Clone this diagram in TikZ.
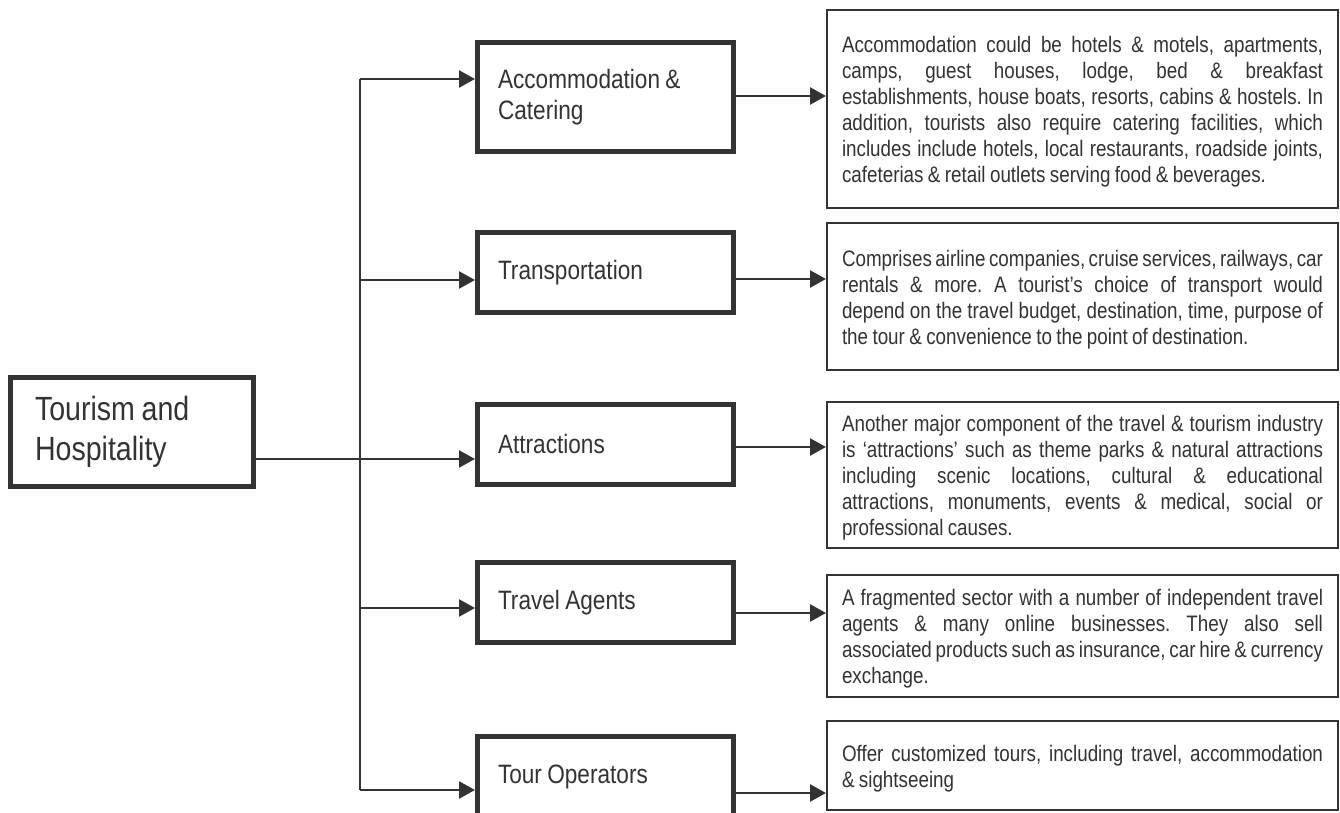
\documentclass[tikz,border=0pt]{standalone}
\usepackage{fontspec}
\setmainfont[FakeStretch=0.85,WordSpace=0.85]{Liberation Sans}
\newfontfamily\descfont[FakeStretch=0.84,WordSpace=0.84]{Liberation Sans}
\usetikzlibrary{arrows.meta}
\definecolor{ink}{HTML}{333333}
\frenchspacing
\begin{document}
\begin{tikzpicture}[x=0.5pt,y=-0.5pt,
  rootbox/.style={draw=ink, line width=2.5pt, minimum width=121.5pt, minimum height=54.5pt,
    text width=97pt, inner xsep=12.25pt, align=flush left, text=ink,
    font=\fontsize{16.8}{20}\selectfont},
  midbox/.style={draw=ink, line width=2.5pt, minimum width=128pt, minimum height=40pt,
    text width=107.5pt, inner xsep=10.25pt, align=flush left, text=ink,
    font=\fontsize{13.3}{15.5}\selectfont},
  descbox/.style={draw=ink, line width=1.2pt, minimum width=255.3pt,
    text width=240.5pt, inner xsep=7.4pt, align=justify, text=ink,
    font=\descfont\fontsize{11.2}{13}\selectfont\frenchspacing,
    execute at begin node={\rule{0pt}{11.2pt}}},
  conn/.style={draw=ink, line width=1.3pt},
  arr/.style={conn, -{Triangle[length=8pt,width=8.5pt]}}
]
\clip (0,0) rectangle (1340,813);
\fill[white] (0,0) rectangle (1340,813);

% root
\node[rootbox] (root) at (132,432) {Tourism and Hospitality};

% middle boxes
\node[midbox, minimum height=54.5pt] (acc) at (605.5,97) {Accommodation \&\\Catering};
\node[midbox] (trans) at (605.5,272.5) {Transportation};
\node[midbox] (attr) at (605.5,444) {Attractions};
\node[midbox] (ta) at (605.5,602.5) {Travel Agents};
\node[midbox] (tour) at (605.5,776.5) {Tour Operators};

% description boxes
\node[descbox, minimum height=98.8pt] (d1) at (1082.5,109) {Accommodation could be hotels \& motels, apartments,\linebreak camps, guest houses, lodge, bed \& breakfast\linebreak establishments, house boats, resorts, cabins \& hostels. In\linebreak addition, tourists also require catering facilities, which\linebreak includes include hotels, local restaurants, roadside joints,\linebreak cafeterias \& retail outlets serving food \& beverages.};
\node[descbox, minimum height=73.3pt] (d2) at (1082.5,296.5) {Comprises airline companies, cruise services, railways, car\linebreak rentals \& more. A tourist’s choice of transport would\linebreak depend on the travel budget, destination, time, purpose of\linebreak the tour \& convenience to the point of destination.};
\node[descbox, minimum height=72.8pt] (d3) at (1082.5,475) {Another major component of the travel \& tourism industry\linebreak is ‘attractions’ such as theme parks \& natural attractions\linebreak including scenic locations, cultural \& educational\linebreak attractions, monuments, events \& medical, social or\linebreak professional causes.};
\node[descbox, minimum height=60.8pt] (d4) at (1082.5,636) {A fragmented sector with a number of independent travel\linebreak agents \& many online businesses. They also sell\linebreak associated products such as insurance, car hire \& currency\linebreak exchange.};
\node[descbox, minimum height=44.3pt] (d5) at (1082.5,765.5) {Offer customized tours, including travel, accommodation\linebreak \& sightseeing};

% trunk
\coordinate (b1) at (360,79);
\coordinate (b2) at (360,280);
\coordinate (b4) at (360,608);
\coordinate (b5) at (360,790);
\draw[conn] (b1) -- (b5);

% branches
\draw[arr] (b1) -- (b1 -| acc.west);
\draw[arr] (b2) -- (b2 -| trans.west);
\draw[arr] ([yshift=-13.5pt]root.east) -- ([yshift=-13.5pt]root.east -| attr.west);
\draw[arr] (b4) -- (b4 -| ta.west);
\draw[arr] (b5) -- (b5 -| tour.west);

% to descriptions
\draw[arr] ([yshift=0.5pt]acc.east) -- ([yshift=0.5pt]acc.east -| d1.west);
\draw[arr] ([yshift=-3.25pt]trans.east) -- ([yshift=-3.25pt]trans.east -| d2.west);
\draw[arr] ([yshift=-1.5pt]attr.east) -- ([yshift=-1.5pt]attr.east -| d3.west);
\draw[arr] ([yshift=-5.25pt]ta.east) -- ([yshift=-5.25pt]ta.east -| d4.west);
\draw[arr] ([yshift=-8.25pt]tour.east) -- ([yshift=-8.25pt]tour.east -| d5.west);
\end{tikzpicture}
\end{document}
